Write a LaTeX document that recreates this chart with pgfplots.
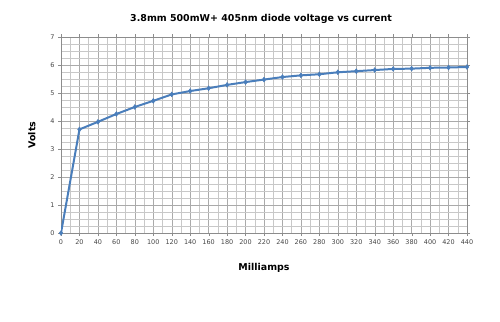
\documentclass[border=0pt]{standalone}
\usepackage{pgfplots}
\pgfplotsset{compat=1.18}
\usepackage{fontspec}
\setmainfont{DejaVu Sans}
\definecolor{line}{RGB}{74,126,187}
\definecolor{gridc}{RGB}{200,200,200}
\definecolor{tickc}{RGB}{70,70,70}
\begin{document}
\begin{tikzpicture}[x=1bp,y=1bp]
\path[use as bounding box] (0,0) rectangle (500,321);
\node[font=\bfseries\fontsize{9.5}{11}\selectfont] at (261,302) {3.8mm 500mW+ 405nm diode voltage vs current};
\begin{axis}[
  at={(61bp,88bp)}, anchor=south west,
  width=406bp, height=196bp, scale only axis,
  xmin=0, xmax=440, ymin=0, ymax=7,
  xtick={0,20,...,440}, ytick={0,1,...,7},
  minor x tick num=1, minor y tick num=3,
  grid=both,
  major grid style={gridc!85!black, line width=0.4pt},
  minor grid style={gridc, line width=0.4pt},
  axis line style={gridc!70!black},
  tick style={gridc!70!black},
  tick align=outside, major tick length=3bp, minor tick length=0pt,
  ticklabel style={font=\fontsize{6.5}{7}\selectfont, text=tickc},
  /pgf/number format/assume math mode=true,
  xlabel={Milliamps}, ylabel={Volts},
  xlabel style={font=\bfseries\fontsize{9.5}{10}\selectfont, yshift=-12bp},
  ylabel style={font=\bfseries\fontsize{9.5}{10}\selectfont, yshift=8bp},
]
\addplot[line, line width=2pt, mark=diamond*, mark size=2.4pt, mark options={line, line width=0.5pt}] coordinates {
(0,0) (20,3.70) (40,3.97) (60,4.25) (80,4.50) (100,4.72) (120,4.95) (140,5.07)
(160,5.17) (180,5.29) (200,5.39) (220,5.48) (240,5.57) (260,5.63) (280,5.67)
(300,5.74) (320,5.78) (340,5.82) (360,5.86) (380,5.87) (400,5.90) (420,5.91) (440,5.93)
};
\end{axis}
\end{tikzpicture}
\end{document}
